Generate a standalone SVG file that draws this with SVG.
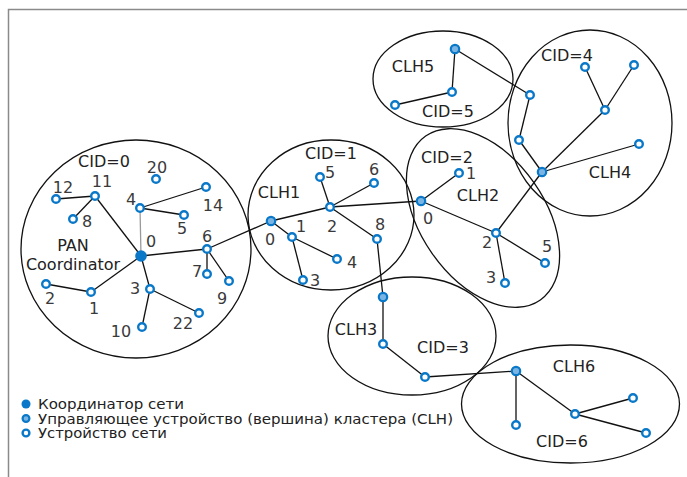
<svg xmlns="http://www.w3.org/2000/svg" width="687" height="477" viewBox="0 0 687 477">
<style>
.frame{stroke:#8a8a8a;stroke-width:1.5;fill:none}
.cl{fill:none;stroke:#111;stroke-width:1.3}
.e line{stroke:#111;stroke-width:1.3;fill:none}
.e .g{stroke:#9a9a9a}
.d{fill:#fff;stroke:#0a78c8;stroke-width:2.4}
.h{fill:#7ab4e2;stroke:#0a78c8;stroke-width:2.2}
.c{fill:#0a78c8}
.n{font-family:"DejaVu Sans","Liberation Sans",sans-serif;font-size:16px;fill:#3a3a3a;text-anchor:middle}
.t{font-family:"DejaVu Sans","Liberation Sans",sans-serif;font-size:16px;fill:#222;text-anchor:middle}
.lg{font-family:"DejaVu Sans","Liberation Sans",sans-serif;font-size:14px;fill:#222}
</style>
<path class="frame" d="M8.5,477 V9.5 H687"/>
<g id="clusters">
<ellipse class="cl" cx="136" cy="249" rx="115" ry="109"/>
<ellipse class="cl" cx="331" cy="215" rx="83" ry="75"/>
<ellipse class="cl" cx="483" cy="218" rx="100" ry="62" transform="rotate(55 483 218)"/>
<ellipse class="cl" cx="443" cy="79" rx="70" ry="48"/>
<ellipse class="cl" cx="590" cy="123" rx="82" ry="93"/>
<ellipse class="cl" cx="412" cy="336" rx="84" ry="59"/>
<ellipse class="cl" cx="570.5" cy="404" rx="109" ry="59"/>
</g>
<g id="connectors" class="e">
<line x1="141" y1="256" x2="95" y2="196"/>
<line x1="95" y1="196" x2="56" y2="199"/>
<line x1="95" y1="196" x2="73" y2="219"/>
<line class="g" x1="141" y1="256" x2="140" y2="208"/>
<line x1="140" y1="208" x2="206" y2="187"/>
<line x1="140" y1="208" x2="184" y2="215"/>
<line x1="141" y1="256" x2="207" y2="249"/>
<line x1="207" y1="249" x2="207" y2="274"/>
<line x1="207" y1="249" x2="229" y2="281"/>
<line x1="207" y1="249" x2="271" y2="221"/>
<line x1="141" y1="256" x2="150" y2="289"/>
<line x1="150" y1="289" x2="142" y2="327"/>
<line x1="150" y1="289" x2="199" y2="313"/>
<line x1="141" y1="256" x2="91" y2="292"/>
<line x1="91" y1="292" x2="46" y2="284"/>
<line x1="271" y1="221" x2="292" y2="237"/>
<line x1="292" y1="237" x2="303" y2="280"/>
<line x1="292" y1="237" x2="337" y2="259"/>
<line x1="271" y1="221" x2="330" y2="207"/>
<line x1="330" y1="207" x2="320" y2="177"/>
<line x1="330" y1="207" x2="374" y2="183"/>
<line x1="330" y1="207" x2="377" y2="239"/>
<line x1="330" y1="207" x2="421" y2="201"/>
<line x1="377" y1="239" x2="383" y2="297"/>
<line x1="421" y1="201" x2="459" y2="173"/>
<line x1="421" y1="201" x2="496" y2="233"/>
<line x1="496" y1="233" x2="505" y2="283"/>
<line x1="496" y1="233" x2="545" y2="263"/>
<line x1="496" y1="233" x2="542" y2="172"/>
<line x1="542" y1="172" x2="519" y2="140"/>
<line x1="519" y1="140" x2="530" y2="95"/>
<line x1="530" y1="95" x2="455" y2="49"/>
<line x1="542" y1="172" x2="605" y2="110"/>
<line x1="605" y1="110" x2="585" y2="67"/>
<line x1="605" y1="110" x2="634" y2="65"/>
<line x1="542" y1="172" x2="639" y2="144"/>
<line x1="455" y1="49" x2="452" y2="92"/>
<line x1="452" y1="92" x2="395" y2="105"/>
<line x1="383" y1="297" x2="383" y2="344"/>
<line x1="383" y1="344" x2="425" y2="377"/>
<line x1="425" y1="377" x2="516" y2="371"/>
<line x1="516" y1="371" x2="516" y2="425"/>
<line x1="516" y1="371" x2="575" y2="414"/>
<line x1="575" y1="414" x2="633" y2="398"/>
<line x1="575" y1="414" x2="646" y2="433"/>
</g>
<g id="cluster0">
<circle id="pan" class="c" cx="141" cy="256" r="5.8"/>
<circle class="d" cx="95" cy="196" r="3.8"/>
<circle class="d" cx="56" cy="199" r="3.8"/>
<circle class="d" cx="73" cy="219" r="3.8"/>
<circle class="d" cx="140" cy="208" r="3.8"/>
<circle class="d" cx="156" cy="179" r="3.8"/>
<circle class="d" cx="206" cy="187" r="3.8"/>
<circle class="d" cx="184" cy="215" r="3.8"/>
<circle class="d" cx="207" cy="249" r="3.8"/>
<circle class="d" cx="207" cy="274" r="3.8"/>
<circle class="d" cx="229" cy="281" r="3.8"/>
<circle class="d" cx="150" cy="289" r="3.8"/>
<circle class="d" cx="199" cy="313" r="3.8"/>
<circle class="d" cx="142" cy="327" r="3.8"/>
<circle class="d" cx="91" cy="292" r="3.8"/>
<circle class="d" cx="46" cy="284" r="3.8"/>
<text class="t" x="104" y="167">CID=0</text>
<text class="t" x="73" y="251">PAN</text>
<text class="t" x="73" y="270">Coordinator</text>
<text class="n" x="102" y="187">11</text>
<text class="n" x="63" y="193">12</text>
<text class="n" x="87" y="227">8</text>
<text class="n" x="131" y="205">4</text>
<text class="n" x="157" y="173">20</text>
<text class="n" x="213" y="211">14</text>
<text class="n" x="182" y="234">5</text>
<text class="n" x="151" y="247">0</text>
<text class="n" x="207" y="242">6</text>
<text class="n" x="197" y="277">7</text>
<text class="n" x="222" y="304">9</text>
<text class="n" x="135" y="294">3</text>
<text class="n" x="183" y="329">22</text>
<text class="n" x="121" y="337">10</text>
<text class="n" x="94" y="314">1</text>
<text class="n" x="50" y="304">2</text>
</g>
<g id="cluster1">
<circle class="h" cx="271" cy="221" r="4.2"/>
<circle class="d" cx="292" cy="237" r="3.8"/>
<circle class="d" cx="303" cy="280" r="3.8"/>
<circle class="d" cx="337" cy="259" r="3.8"/>
<circle class="d" cx="330" cy="207" r="3.8"/>
<circle class="d" cx="320" cy="177" r="3.8"/>
<circle class="d" cx="374" cy="183" r="3.8"/>
<circle class="d" cx="377" cy="239" r="3.8"/>
<text class="t" x="331" y="159">CID=1</text>
<text class="t" x="279" y="198">CLH1</text>
<text class="n" x="330" y="178">5</text>
<text class="n" x="374" y="175">6</text>
<text class="n" x="301" y="232">1</text>
<text class="n" x="332" y="232">2</text>
<text class="n" x="270" y="245">0</text>
<text class="n" x="380" y="230">8</text>
<text class="n" x="352" y="268">4</text>
<text class="n" x="315" y="286">3</text>
</g>
<g id="cluster2">
<circle class="h" cx="421" cy="201" r="4.2"/>
<circle class="d" cx="459" cy="173" r="3.8"/>
<circle class="d" cx="496" cy="233" r="3.8"/>
<circle class="d" cx="505" cy="283" r="3.8"/>
<circle class="d" cx="545" cy="263" r="3.8"/>
<text class="t" x="447" y="163">CID=2</text>
<text class="t" x="478" y="201">CLH2</text>
<text class="n" x="471" y="179">1</text>
<text class="n" x="428" y="224">0</text>
<text class="n" x="487" y="248">2</text>
<text class="n" x="547" y="252">5</text>
<text class="n" x="491" y="283">3</text>
</g>
<g id="cluster4">
<circle class="h" cx="542" cy="172" r="4.2"/>
<circle class="d" cx="519" cy="140" r="3.8"/>
<circle class="d" cx="530" cy="95" r="3.8"/>
<circle class="d" cx="605" cy="110" r="3.8"/>
<circle class="d" cx="585" cy="67" r="3.8"/>
<circle class="d" cx="634" cy="65" r="3.8"/>
<circle class="d" cx="639" cy="144" r="3.8"/>
<text class="t" x="567" y="61">CID=4</text>
<text class="t" x="610" y="178">CLH4</text>
</g>
<g id="cluster5">
<circle class="h" cx="455" cy="49" r="4.2"/>
<circle class="d" cx="452" cy="92" r="3.8"/>
<circle class="d" cx="395" cy="105" r="3.8"/>
<text class="t" x="413" y="72">CLH5</text>
<text class="t" x="448" y="117">CID=5</text>
</g>
<g id="cluster3">
<circle class="h" cx="383" cy="297" r="4.2"/>
<circle class="d" cx="383" cy="344" r="3.8"/>
<circle class="d" cx="425" cy="377" r="3.8"/>
<text class="t" x="356" y="335">CLH3</text>
<text class="t" x="443" y="353">CID=3</text>
</g>
<g id="cluster6">
<circle class="h" cx="516" cy="371" r="4.2"/>
<circle class="d" cx="516" cy="425" r="3.8"/>
<circle class="d" cx="575" cy="414" r="3.8"/>
<circle class="d" cx="633" cy="398" r="3.8"/>
<circle class="d" cx="646" cy="433" r="3.8"/>
<text class="t" x="574" y="372">CLH6</text>
<text class="t" x="562" y="447">CID=6</text>
</g>
<g id="legend">
<circle class="c" cx="26" cy="404" r="4.5"/>
<text class="lg" x="38" y="409" textLength="146" lengthAdjust="spacingAndGlyphs">Координатор сети</text>
<circle class="h" cx="26" cy="418.5" r="3.4"/>
<text class="lg" x="38" y="423.5" textLength="415" lengthAdjust="spacingAndGlyphs">Управляющее устройство (вершина) кластера (CLH)</text>
<circle class="d" cx="26" cy="433" r="3.4"/>
<text class="lg" x="38" y="438" textLength="129" lengthAdjust="spacingAndGlyphs">Устройство сети</text>
</g>
</svg>
